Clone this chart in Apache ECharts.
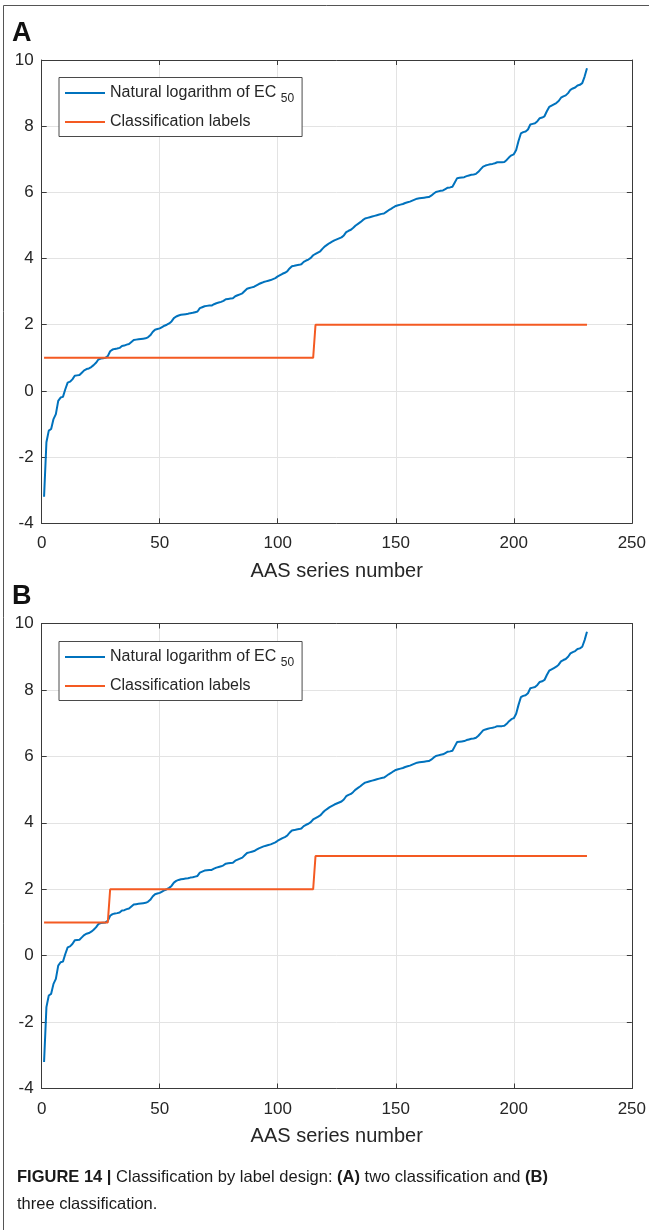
<!DOCTYPE html>
<html>
<head>
<meta charset="utf-8">
<script src="https://cdn.jsdelivr.net/npm/echarts@6/dist/echarts.min.js"></script>
<style>html,body{margin:0;padding:0;background:#fff}#c{width:649px;height:1230px}</style>
</head>
<body>
<div id="c"></div>
<script>
// ---- data ----
const lnEC50 = [
-3.20,-1.55,-1.20,-1.15,-0.85,-0.70,-0.30,-0.20,-0.18,0.05,
0.25,0.28,0.35,0.46,0.47,0.48,0.55,0.62,0.66,0.68,
0.72,0.78,0.85,0.95,0.98,0.99,1.00,1.05,1.20,1.25,
1.27,1.28,1.30,1.36,1.37,1.40,1.42,1.48,1.54,1.55,
1.56,1.57,1.58,1.59,1.62,1.68,1.78,1.85,1.87,1.89,
1.93,1.97,2.00,2.04,2.10,2.20,2.25,2.28,2.30,2.31,
2.32,2.33,2.35,2.36,2.38,2.40,2.50,2.53,2.56,2.57,
2.58,2.58,2.62,2.65,2.67,2.69,2.72,2.77,2.78,2.79,
2.80,2.86,2.89,2.92,2.95,3.02,3.09,3.11,3.13,3.15,
3.19,3.23,3.26,3.29,3.31,3.33,3.35,3.38,3.41,3.46,
3.50,3.54,3.57,3.61,3.70,3.77,3.78,3.80,3.81,3.83,
3.90,3.94,3.97,4.02,4.10,4.14,4.18,4.22,4.30,4.37,
4.42,4.47,4.51,4.55,4.58,4.61,4.64,4.70,4.80,4.84,
4.87,4.93,5.00,5.05,5.10,5.16,5.21,5.23,5.25,5.27,
5.29,5.31,5.33,5.35,5.36,5.41,5.46,5.50,5.55,5.59,
5.61,5.63,5.65,5.68,5.70,5.72,5.75,5.78,5.81,5.82,
5.83,5.84,5.85,5.86,5.90,5.96,6.01,6.03,6.05,6.06,
6.10,6.14,6.15,6.17,6.30,6.43,6.44,6.45,6.46,6.49,
6.51,6.53,6.54,6.56,6.62,6.70,6.78,6.81,6.83,6.85,
6.86,6.88,6.91,6.91,6.91,6.92,6.98,7.06,7.12,7.15,
7.28,7.55,7.78,7.82,7.84,7.90,8.05,8.07,8.09,8.15,
8.24,8.26,8.30,8.45,8.58,8.62,8.66,8.70,8.76,8.86,
8.90,8.93,9.00,9.10,9.14,9.17,9.23,9.25,9.30,9.50,
9.75
];
// classification label step corners: [series number, label]
const labelsA = [[1,1],[115,1],[116,2],[231,2]];
const labelsB = [[1,1],[28,1],[29,2],[115,2],[116,3],[231,3]];
const xTicks = {min: 0, max: 250, interval: 50};
const yTicks = {min: -4, max: 10, interval: 2};
const xName = 'AAS series number';
const legendNames = ['Natural logarithm of EC {sub|50}', 'Classification labels'];

// ---- chart ----
const blue = '#0072BD', orange = '#F45A22';
const axisCol = '#3a3a3a', gridCol = '#e3e3e3', txtCol = '#262626';
const fontFam = 'Liberation Sans, Arial, sans-serif';
const curve = lnEC50.map((v, i) => [i + 1, v]);

const grids = [
  {left: 41.7, top: 60, width: 593.3, height: 463.3},
  {left: 41.7, top: 623.5, width: 593.3, height: 465}
];

const lineCommon = {show: true, onZero: false, lineStyle: {color: axisCol, width: 1}};
const tickCommon = {show: true, inside: true, length: 5, lineStyle: {color: axisCol}};

function xMain(g) {
  return {type: 'value', gridIndex: g, position: 'bottom', ...xTicks,
    axisLine: lineCommon, axisTick: tickCommon,
    axisLabel: {color: txtCol, fontSize: 17, margin: 12, fontFamily: fontFam},
    splitLine: {show: true, lineStyle: {color: gridCol, width: 1}},
    name: xName, nameLocation: 'middle', nameGap: 38,
    nameTextStyle: {color: txtCol, fontSize: 20, fontFamily: fontFam}};
}
function xTop(g) {
  return {type: 'value', gridIndex: g, position: 'top', ...xTicks,
    axisLine: lineCommon, axisTick: tickCommon,
    axisLabel: {show: false}, splitLine: {show: false}};
}
function yMain(g) {
  return {type: 'value', gridIndex: g, position: 'left', ...yTicks,
    axisLine: lineCommon, axisTick: tickCommon,
    axisLabel: {color: txtCol, fontSize: 17, margin: 8, fontFamily: fontFam},
    splitLine: {show: true, lineStyle: {color: gridCol, width: 1}}};
}
function yRight(g) {
  return {type: 'value', gridIndex: g, position: 'right', ...yTicks,
    axisLine: lineCommon, axisTick: tickCommon,
    axisLabel: {show: false}, splitLine: {show: false}};
}

function legendFor(top) {
  return {
    left: 59, top: top, orient: 'vertical',
    data: [{name: legendNames[0]}, {name: legendNames[1]}],
    icon: 'rect', itemWidth: 40, itemHeight: 2, itemGap: 8,
    borderColor: '#4a4a4a', borderWidth: 1, backgroundColor: '#fff',
    padding: [6, 8, 5, 6],
    selectedMode: false,
    textStyle: {color: txtCol, fontSize: 16, fontFamily: fontFam, lineHeight: 19,
      rich: {sub: {fontSize: 12, fontFamily: fontFam, color: txtCol, padding: [11, 0, 0, 0]}}},
    formatter: function (n) { return n; }
  };
}

const lineBase = {type: 'line', showSymbol: false, symbol: 'none', silent: true, animation: false};
const capFont = 'Liberation Sans Narrow, Liberation Sans, sans-serif';

const option = {
  animation: false,
  grid: grids,
  xAxis: [xMain(0), xTop(0), xMain(1), xTop(1)],
  yAxis: [yMain(0), yRight(0), yMain(1), yRight(1)],
  legend: [legendFor(77.5), legendFor(641.5)],
  series: [
    {...lineBase, name: legendNames[0], xAxisIndex: 0, yAxisIndex: 0, data: curve,
      lineStyle: {color: blue, width: 2}, itemStyle: {color: blue}},
    {...lineBase, name: legendNames[1], xAxisIndex: 0, yAxisIndex: 0, data: labelsA,
      lineStyle: {color: orange, width: 2}, itemStyle: {color: orange}},
    {...lineBase, name: legendNames[0], xAxisIndex: 2, yAxisIndex: 2, data: curve,
      lineStyle: {color: blue, width: 2}, itemStyle: {color: blue}},
    {...lineBase, name: legendNames[1], xAxisIndex: 2, yAxisIndex: 2, data: labelsB,
      lineStyle: {color: orange, width: 2}, itemStyle: {color: orange}}
  ],
  graphic: [
    {type: 'polyline', shape: {points: [[3.5, 1230], [3.5, 5.5], [649, 5.5]]},
      style: {stroke: '#555', lineWidth: 1, fill: null}, silent: true},
    {type: 'text', left: 12, top: 20, style: {text: 'A', fontSize: 27, fontWeight: 'bold', fill: '#111', fontFamily: fontFam}},
    {type: 'text', left: 12, top: 583, style: {text: 'B', fontSize: 27, fontWeight: 'bold', fill: '#111', fontFamily: fontFam}},
    {type: 'text', left: 17, top: 1169, style: {
      text: '{b|FIGURE 14 | }{n|Classification by label design: }{b|(A)}{n| two classification and }{b|(B)}',
      rich: {b: {fontSize: 16.5, fontWeight: 'bold', fill: '#1a1a1a', fontFamily: capFont},
             n: {fontSize: 16.5, fill: '#1a1a1a', fontFamily: capFont}}}},
    {type: 'text', left: 17, top: 1196, style: {
      text: 'three classification.', fontSize: 16.5, fill: '#1a1a1a', fontFamily: capFont}}
  ]
};

const chart = echarts.init(document.getElementById('c'), null, {renderer: 'canvas'});
chart.setOption(option);
</script>
</body>
</html>
